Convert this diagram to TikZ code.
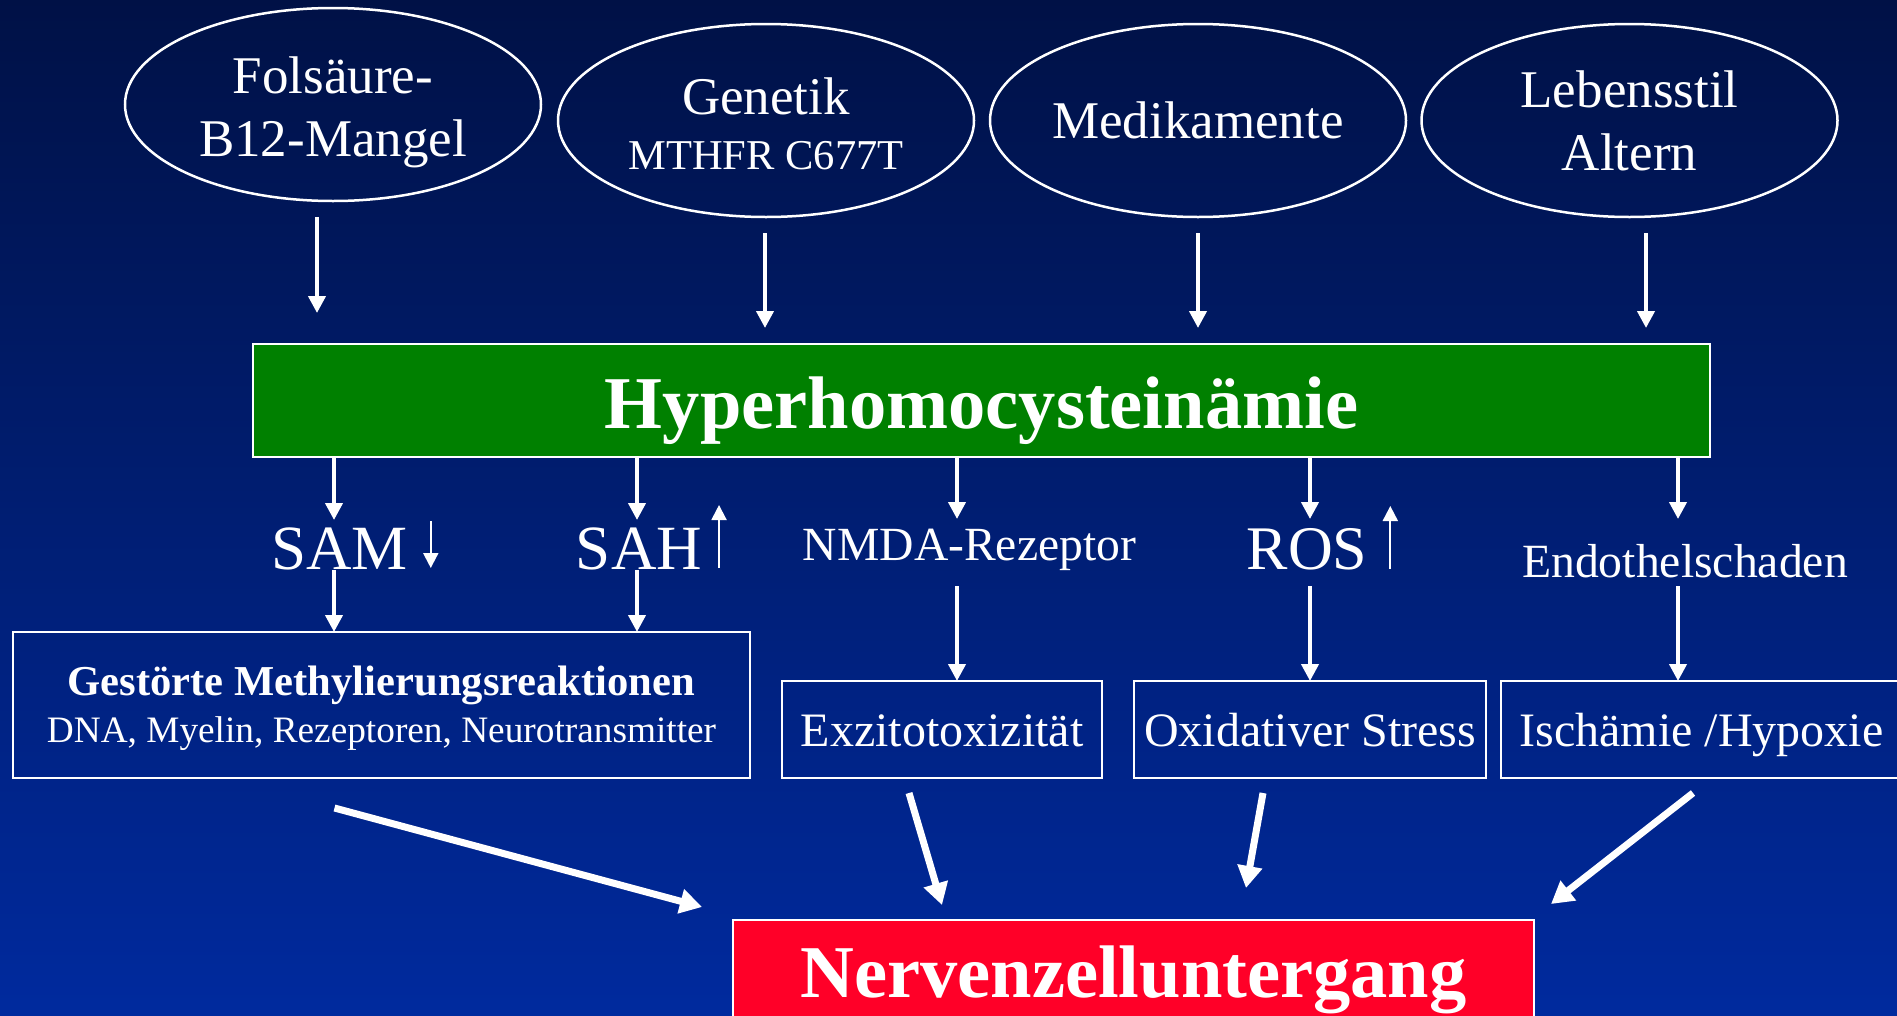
\documentclass[tikz,border=0pt]{standalone}
\usepackage{fontspec}
\setmainfont{Liberation Serif}
\usetikzlibrary{shapes.geometric,arrows.meta}
\definecolor{bgtop}{RGB}{0,17,70}
\definecolor{bgmid}{RGB}{0,33,122}
\definecolor{bgbot}{RGB}{0,42,158}
\definecolor{hhcgreen}{RGB}{0,128,0}
\definecolor{deathred}{RGB}{255,0,40}
\newcommand{\fs}[2]{\fontsize{#1}{#2}\selectfont}

\begin{document}
\begin{tikzpicture}[x=1pt, y=-1pt, every node/.style={text=white, inner sep=0pt, outer sep=0pt},
    cause/.style={draw=white, line width=2.5pt, ellipse, minimum width=416pt, minimum height=193pt, align=center, font=\fs{53}{63}},
    effect/.style={draw=white, line width=2.5pt, rectangle, minimum height=97pt, font=\fs{48}{58}, text height=33pt, text depth=0pt},
    arr/.style={white, line width=4pt, -{Triangle[length=17pt,width=17pt]}},
    sarr/.style={white, line width=2pt, -{Triangle[length=15pt,width=15pt]}},
    bigarr/.style={white, line width=7pt, -{Triangle[length=22pt,width=24pt]}}]
                % Background
                \useasboundingbox (0,0) rectangle (1897,1015);
                \shade[top color=bgtop, middle color=bgmid, bottom color=bgbot] (0,0) rectangle (1897,1015);

                % Causes
                \node[cause] (fol) at (333,104.5) {\rule{0pt}{52pt}Folsäure-\\B12-Mangel};
                \node[cause, font=\fs{53}{54.5}] (gen) at (766,120.5) {\rule{0pt}{43pt}Genetik\\{\fs{42.5}{54.5}MTHFR C677T}};
                \node[cause] (med) at (1198,120.5) {Medikamente};
                \node[cause] (leb) at (1629.5,120.5) {Lebensstil\\Altern};

                % Central box
                \node[draw=white, line width=2.5pt, fill=hhcgreen, minimum width=1457pt, minimum height=113pt,
                      font=\fs{74.5}{80}\bfseries, text height=55pt, text depth=0pt] (hhc) at (981.5,400.5) {Hyperhomocysteinämie};

                % Mediators
                \node[anchor=base, font=\fs{63}{70}, text height=49pt, text depth=1pt] (sam) at (339.5,569) {SAM};
                \node[anchor=base, font=\fs{63}{70}, text height=49pt, text depth=1pt] (sah) at (639,569) {SAH};
                \node[anchor=base, font=\fs{47.6}{56}, text height=41pt, text depth=26pt] (nmda) at (969.5,560) {NMDA-Rezeptor};
                \node[anchor=base, font=\fs{62}{70}, text height=50pt, text depth=17pt] (ros) at (1307,569) {ROS};
                \node[anchor=base, font=\fs{47.7}{56}, text height=58pt, text depth=9pt] (endo) at (1685,577) {Endothelschaden};

                % Effects
                \node[draw=white, line width=2.5pt, minimum width=737pt, minimum height=146pt, align=center,
                      font=\fs{40}{47}] (methyl) at (381.5,705)
                      {{\fs{42.6}{47}\bfseries\rule{0pt}{37pt}Gestörte Methylierungsreaktionen}\\{\fs{37.3}{47}DNA, Myelin, Rezeptoren, Neurotransmitter}};
                \node[effect, minimum width=320pt] (exzito) at (942,729.5) {Exzitotoxizität};
                \node[effect, minimum width=352pt] (oxid) at (1310,729.5) {Oxidativer Stress};
                \node[effect, minimum width=401pt] (isch) at (1701.5,729.5) {Ischämie /Hypoxie};

                % Outcome
                \node[draw=white, line width=2.5pt, fill=deathred, minimum width=801pt, minimum height=104pt,
                      font=\fs{74.5}{80}\bfseries, text height=50pt, text depth=0pt] (red) at (1133.5,972) {Nervenzelluntergang};

                % Arrows into Hyperhomocysteinaemie
                \foreach \src/\dx/\gap in {fol/-16/31, gen/-1/16, med/0/16, leb/16.5/16} {
                    \draw[arr, shorten <=16pt, shorten >=\gap pt] ([xshift=\dx pt]\src.south) -- ([xshift=\dx pt]\src.south |- hhc.north);
                }

                % Arrows through the mediators
                \foreach \lbl/\xx/\tgt in {sam/334/methyl, sah/637/methyl, nmda/957/exzito, ros/1310/oxid, endo/1678/isch} {
                    \coordinate (col) at (\xx,0);
                    \draw[arr] (hhc.south -| col) -- (\lbl.north -| col);
                    \draw[arr] (\lbl.south -| col) -- (\tgt.north -| col);
                }

                % Up and down marks
                \draw[sarr] ([xshift=23pt,yshift=48pt]sam.base east) -- ([xshift=23pt,yshift=1pt]sam.base east);
                \draw[sarr] ([xshift=17pt,yshift=1pt]sah.base east) -- ([xshift=17pt,yshift=64pt]sah.base east);
                \draw[sarr] ([xshift=23pt]ros.base east) -- ([xshift=23pt,yshift=63pt]ros.base east);

                % Arrows to the outcome
                \draw[bigarr] ([xshift=-47pt,yshift=-30pt]methyl.south) -- ([xshift=-31pt,yshift=13pt]red.north west);
                \draw[bigarr] ([xshift=-33pt,yshift=-15pt]exzito.south) -- ([xshift=209pt,yshift=15pt]red.north west);
                \draw[bigarr] ([xshift=-47pt,yshift=-15pt]oxid.south) -- ([xshift=513pt,yshift=32pt]red.north west);
                \draw[bigarr] ([xshift=-8.5pt,yshift=-15pt]isch.south) -- ([xshift=17pt,yshift=16pt]red.north east);
            \end{tikzpicture}
\end{document}
